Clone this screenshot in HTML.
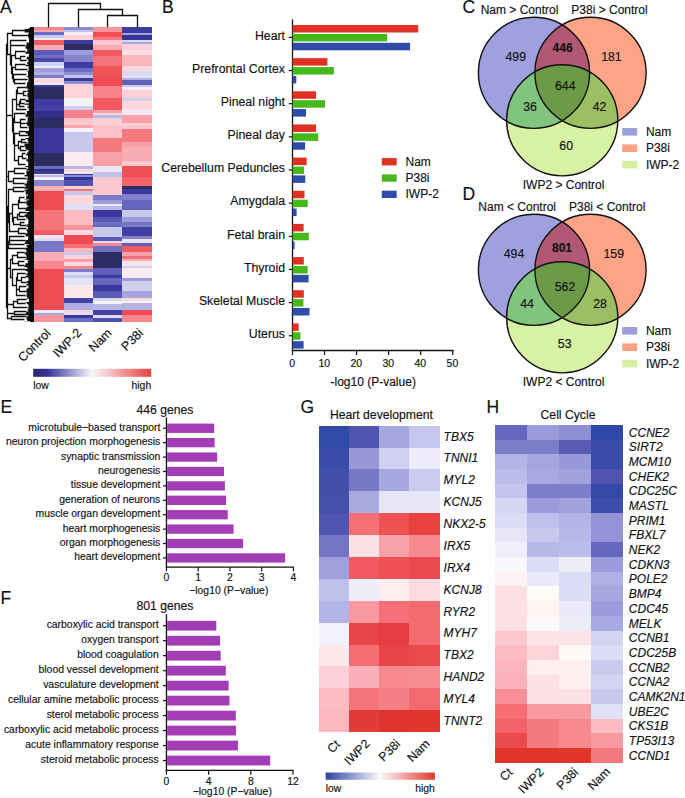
<!DOCTYPE html><html><head><meta charset="utf-8"><style>html,body{margin:0;padding:0;background:#fff;}svg{display:block;}text{font-family:"Liberation Sans", sans-serif;fill:#111;stroke:#111;stroke-width:0.15px;}</style></head><body>
<svg width="685" height="798" viewBox="0 0 685 798">
<rect x="0" y="0" width="685" height="798" fill="#fff"/>
<text x="0" y="12.8" font-size="17.5">A</text>
<text x="162" y="12.8" font-size="17.5">B</text>
<text x="462.5" y="13" font-size="17.5">C</text>
<text x="462.5" y="199.6" font-size="17.5">D</text>
<text x="0.5" y="412.8" font-size="17.5">E</text>
<text x="0.5" y="604" font-size="17.5">F</text>
<text x="300.5" y="412.6" font-size="17.5">G</text>
<text x="486.5" y="412.6" font-size="17.5">H</text>
<rect x="34.30" y="27.30" width="29.70" height="2.80" fill="#f5868c" shape-rendering="crispEdges"/>
<rect x="34.30" y="29.70" width="29.70" height="3.00" fill="#f8a8ae" shape-rendering="crispEdges"/>
<rect x="34.30" y="32.30" width="29.70" height="2.60" fill="#6a6ac0" shape-rendering="crispEdges"/>
<rect x="34.30" y="34.50" width="29.70" height="3.80" fill="#c8c8ec" shape-rendering="crispEdges"/>
<rect x="34.30" y="37.90" width="29.70" height="2.60" fill="#f8e8f0" shape-rendering="crispEdges"/>
<rect x="34.30" y="40.10" width="29.70" height="5.10" fill="#f05a60" shape-rendering="crispEdges"/>
<rect x="34.30" y="44.80" width="29.70" height="5.60" fill="#f9acb4" shape-rendering="crispEdges"/>
<rect x="34.30" y="50.00" width="29.70" height="5.50" fill="#5c5cb6" shape-rendering="crispEdges"/>
<rect x="34.30" y="55.10" width="29.70" height="3.00" fill="#7070c0" shape-rendering="crispEdges"/>
<rect x="34.30" y="57.70" width="29.70" height="4.70" fill="#4a48ac" shape-rendering="crispEdges"/>
<rect x="34.30" y="62.00" width="29.70" height="3.90" fill="#d0d0f0" shape-rendering="crispEdges"/>
<rect x="34.30" y="65.50" width="29.70" height="3.00" fill="#ececf8" shape-rendering="crispEdges"/>
<rect x="34.30" y="68.10" width="29.70" height="4.20" fill="#a0a0dc" shape-rendering="crispEdges"/>
<rect x="34.30" y="71.90" width="29.70" height="3.50" fill="#b0b0e4" shape-rendering="crispEdges"/>
<rect x="34.30" y="75.00" width="29.70" height="3.00" fill="#7c7cc8" shape-rendering="crispEdges"/>
<rect x="34.30" y="77.60" width="29.70" height="5.60" fill="#fcd8dc" shape-rendering="crispEdges"/>
<rect x="34.30" y="82.80" width="29.70" height="2.10" fill="#ecebf6" shape-rendering="crispEdges"/>
<rect x="34.30" y="84.50" width="29.70" height="3.00" fill="#3c38a0" shape-rendering="crispEdges"/>
<rect x="34.30" y="87.10" width="29.70" height="12.40" fill="#2c2c5e" shape-rendering="crispEdges"/>
<rect x="34.30" y="99.10" width="29.70" height="6.40" fill="#3e3aa2" shape-rendering="crispEdges"/>
<rect x="34.30" y="105.10" width="29.70" height="6.00" fill="#4440a8" shape-rendering="crispEdges"/>
<rect x="34.30" y="110.70" width="29.70" height="7.80" fill="#33308a" shape-rendering="crispEdges"/>
<rect x="34.30" y="118.10" width="29.70" height="10.70" fill="#2c2c5e" shape-rendering="crispEdges"/>
<rect x="34.30" y="128.40" width="29.70" height="24.60" fill="#3a369c" shape-rendering="crispEdges"/>
<rect x="34.30" y="152.60" width="29.70" height="13.70" fill="#2c2c5e" shape-rendering="crispEdges"/>
<rect x="34.30" y="165.90" width="29.70" height="3.40" fill="#6c6cc0" shape-rendering="crispEdges"/>
<rect x="34.30" y="168.90" width="29.70" height="2.60" fill="#303080" shape-rendering="crispEdges"/>
<rect x="34.30" y="171.10" width="29.70" height="3.00" fill="#3c3ca0" shape-rendering="crispEdges"/>
<rect x="34.30" y="173.70" width="29.70" height="1.70" fill="#f0eef8" shape-rendering="crispEdges"/>
<rect x="34.30" y="175.00" width="29.70" height="2.10" fill="#b8b8e6" shape-rendering="crispEdges"/>
<rect x="34.30" y="176.70" width="29.70" height="3.90" fill="#f6f0f6" shape-rendering="crispEdges"/>
<rect x="34.30" y="180.20" width="29.70" height="6.40" fill="#8484cc" shape-rendering="crispEdges"/>
<rect x="34.30" y="186.20" width="29.70" height="5.10" fill="#f9b0b8" shape-rendering="crispEdges"/>
<rect x="34.30" y="190.90" width="29.70" height="19.40" fill="#ee4c52" shape-rendering="crispEdges"/>
<rect x="34.30" y="209.90" width="29.70" height="20.70" fill="#f4747a" shape-rendering="crispEdges"/>
<rect x="34.30" y="230.20" width="29.70" height="5.10" fill="#f05a60" shape-rendering="crispEdges"/>
<rect x="34.30" y="234.90" width="29.70" height="4.30" fill="#f4e4ec" shape-rendering="crispEdges"/>
<rect x="34.30" y="238.80" width="29.70" height="2.50" fill="#d8d8f0" shape-rendering="crispEdges"/>
<rect x="34.30" y="240.90" width="29.70" height="11.20" fill="#7878c6" shape-rendering="crispEdges"/>
<rect x="34.30" y="251.70" width="29.70" height="9.90" fill="#f9acb4" shape-rendering="crispEdges"/>
<rect x="34.30" y="261.20" width="29.70" height="8.10" fill="#f6888e" shape-rendering="crispEdges"/>
<rect x="34.30" y="268.90" width="29.70" height="41.40" fill="#ee4c52" shape-rendering="crispEdges"/>
<rect x="34.30" y="309.90" width="29.70" height="3.40" fill="#ecebf6" shape-rendering="crispEdges"/>
<rect x="34.30" y="312.90" width="29.70" height="2.50" fill="#a8a8e0" shape-rendering="crispEdges"/>
<rect x="34.30" y="315.00" width="29.70" height="7.20" fill="#f8969c" shape-rendering="crispEdges"/>
<rect x="63.60" y="27.30" width="29.80" height="2.80" fill="#8a8ad0" shape-rendering="crispEdges"/>
<rect x="63.60" y="29.70" width="29.80" height="2.60" fill="#c0c0e8" shape-rendering="crispEdges"/>
<rect x="63.60" y="31.90" width="29.80" height="3.40" fill="#f8eef4" shape-rendering="crispEdges"/>
<rect x="63.60" y="34.90" width="29.80" height="5.10" fill="#fcd0d8" shape-rendering="crispEdges"/>
<rect x="63.60" y="39.60" width="29.80" height="5.20" fill="#3c3ca0" shape-rendering="crispEdges"/>
<rect x="63.60" y="44.40" width="29.80" height="6.00" fill="#2c2c60" shape-rendering="crispEdges"/>
<rect x="63.60" y="50.00" width="29.80" height="5.10" fill="#9c9cda" shape-rendering="crispEdges"/>
<rect x="63.60" y="54.70" width="29.80" height="7.70" fill="#8686cc" shape-rendering="crispEdges"/>
<rect x="63.60" y="62.00" width="29.80" height="6.50" fill="#3c3ca0" shape-rendering="crispEdges"/>
<rect x="63.60" y="68.10" width="29.80" height="4.20" fill="#6c6cc0" shape-rendering="crispEdges"/>
<rect x="63.60" y="71.90" width="29.80" height="3.50" fill="#8c8cd0" shape-rendering="crispEdges"/>
<rect x="63.60" y="75.00" width="29.80" height="3.40" fill="#c0c0e8" shape-rendering="crispEdges"/>
<rect x="63.60" y="78.00" width="29.80" height="3.40" fill="#3c3ca0" shape-rendering="crispEdges"/>
<rect x="63.60" y="81.00" width="29.80" height="3.40" fill="#8c8cd0" shape-rendering="crispEdges"/>
<rect x="63.60" y="84.00" width="29.80" height="14.70" fill="#fcd4da" shape-rendering="crispEdges"/>
<rect x="63.60" y="98.30" width="29.80" height="7.70" fill="#f4f2f8" shape-rendering="crispEdges"/>
<rect x="63.60" y="105.60" width="29.80" height="5.10" fill="#d0d0f0" shape-rendering="crispEdges"/>
<rect x="63.60" y="110.30" width="29.80" height="8.20" fill="#f6848a" shape-rendering="crispEdges"/>
<rect x="63.60" y="118.10" width="29.80" height="7.30" fill="#fcc4cc" shape-rendering="crispEdges"/>
<rect x="63.60" y="125.00" width="29.80" height="3.80" fill="#f8a8ae" shape-rendering="crispEdges"/>
<rect x="63.60" y="128.40" width="29.80" height="3.90" fill="#f6f2f8" shape-rendering="crispEdges"/>
<rect x="63.60" y="131.90" width="29.80" height="20.20" fill="#c8c8ec" shape-rendering="crispEdges"/>
<rect x="63.60" y="151.70" width="29.80" height="14.20" fill="#fcecf0" shape-rendering="crispEdges"/>
<rect x="63.60" y="165.50" width="29.80" height="3.80" fill="#b8b8e6" shape-rendering="crispEdges"/>
<rect x="63.60" y="168.90" width="29.80" height="3.40" fill="#fcd8dc" shape-rendering="crispEdges"/>
<rect x="63.60" y="171.90" width="29.80" height="2.20" fill="#e8e8f8" shape-rendering="crispEdges"/>
<rect x="63.60" y="173.70" width="29.80" height="1.70" fill="#3c3ca0" shape-rendering="crispEdges"/>
<rect x="63.60" y="175.00" width="29.80" height="2.10" fill="#8c8cd0" shape-rendering="crispEdges"/>
<rect x="63.60" y="176.70" width="29.80" height="3.90" fill="#34309a" shape-rendering="crispEdges"/>
<rect x="63.60" y="180.20" width="29.80" height="6.40" fill="#5050b0" shape-rendering="crispEdges"/>
<rect x="63.60" y="186.20" width="29.80" height="3.00" fill="#fcd0d8" shape-rendering="crispEdges"/>
<rect x="63.60" y="188.80" width="29.80" height="2.50" fill="#f47078" shape-rendering="crispEdges"/>
<rect x="63.60" y="190.90" width="29.80" height="4.30" fill="#c8c8ec" shape-rendering="crispEdges"/>
<rect x="63.60" y="194.80" width="29.80" height="9.50" fill="#fcd8dc" shape-rendering="crispEdges"/>
<rect x="63.60" y="203.90" width="29.80" height="6.00" fill="#e0e0f4" shape-rendering="crispEdges"/>
<rect x="63.60" y="209.50" width="29.80" height="15.90" fill="#fbbcc4" shape-rendering="crispEdges"/>
<rect x="63.60" y="225.00" width="29.80" height="5.10" fill="#f8949a" shape-rendering="crispEdges"/>
<rect x="63.60" y="229.70" width="29.80" height="5.60" fill="#fcd8dc" shape-rendering="crispEdges"/>
<rect x="63.60" y="234.90" width="29.80" height="9.00" fill="#ee4c52" shape-rendering="crispEdges"/>
<rect x="63.60" y="243.50" width="29.80" height="4.70" fill="#f47078" shape-rendering="crispEdges"/>
<rect x="63.60" y="247.80" width="29.80" height="4.70" fill="#f9b4bc" shape-rendering="crispEdges"/>
<rect x="63.60" y="252.10" width="29.80" height="3.40" fill="#c8c8ec" shape-rendering="crispEdges"/>
<rect x="63.60" y="255.10" width="29.80" height="4.30" fill="#fcd0d8" shape-rendering="crispEdges"/>
<rect x="63.60" y="259.00" width="29.80" height="3.40" fill="#f8a0a8" shape-rendering="crispEdges"/>
<rect x="63.60" y="262.00" width="29.80" height="3.90" fill="#fcd8dc" shape-rendering="crispEdges"/>
<rect x="63.60" y="265.50" width="29.80" height="3.80" fill="#f8888e" shape-rendering="crispEdges"/>
<rect x="63.60" y="268.90" width="29.80" height="3.90" fill="#7c7cc8" shape-rendering="crispEdges"/>
<rect x="63.60" y="272.40" width="29.80" height="3.00" fill="#dcdcf2" shape-rendering="crispEdges"/>
<rect x="63.60" y="275.00" width="29.80" height="3.00" fill="#c8c8ec" shape-rendering="crispEdges"/>
<rect x="63.60" y="277.60" width="29.80" height="7.30" fill="#e2e2f6" shape-rendering="crispEdges"/>
<rect x="63.60" y="284.50" width="29.80" height="13.70" fill="#fde8ec" shape-rendering="crispEdges"/>
<rect x="63.60" y="297.80" width="29.80" height="6.00" fill="#4444a6" shape-rendering="crispEdges"/>
<rect x="63.60" y="303.40" width="29.80" height="6.50" fill="#aeaee2" shape-rendering="crispEdges"/>
<rect x="63.60" y="309.50" width="29.80" height="2.90" fill="#fcd0d8" shape-rendering="crispEdges"/>
<rect x="63.60" y="312.00" width="29.80" height="3.40" fill="#e0e0f4" shape-rendering="crispEdges"/>
<rect x="63.60" y="315.00" width="29.80" height="3.40" fill="#3a38a0" shape-rendering="crispEdges"/>
<rect x="63.60" y="318.00" width="29.80" height="4.20" fill="#6c6cc0" shape-rendering="crispEdges"/>
<rect x="93.00" y="27.30" width="29.70" height="5.40" fill="#f8949a" shape-rendering="crispEdges"/>
<rect x="93.00" y="32.30" width="29.70" height="5.20" fill="#ee5055" shape-rendering="crispEdges"/>
<rect x="93.00" y="37.10" width="29.70" height="3.40" fill="#f47a80" shape-rendering="crispEdges"/>
<rect x="93.00" y="40.10" width="29.70" height="5.10" fill="#fcc4cc" shape-rendering="crispEdges"/>
<rect x="93.00" y="44.80" width="29.70" height="5.60" fill="#f9aab2" shape-rendering="crispEdges"/>
<rect x="93.00" y="50.00" width="29.70" height="6.40" fill="#f05a60" shape-rendering="crispEdges"/>
<rect x="93.00" y="56.00" width="29.70" height="9.90" fill="#f4747a" shape-rendering="crispEdges"/>
<rect x="93.00" y="65.50" width="29.70" height="9.90" fill="#f05458" shape-rendering="crispEdges"/>
<rect x="93.00" y="75.00" width="29.70" height="11.60" fill="#ee4c52" shape-rendering="crispEdges"/>
<rect x="93.00" y="86.20" width="29.70" height="12.50" fill="#f6828a" shape-rendering="crispEdges"/>
<rect x="93.00" y="98.30" width="29.70" height="12.40" fill="#f05a60" shape-rendering="crispEdges"/>
<rect x="93.00" y="110.30" width="29.70" height="3.00" fill="#f8a0a8" shape-rendering="crispEdges"/>
<rect x="93.00" y="112.90" width="29.70" height="2.50" fill="#fcd8dc" shape-rendering="crispEdges"/>
<rect x="93.00" y="115.00" width="29.70" height="3.00" fill="#b8b8e6" shape-rendering="crispEdges"/>
<rect x="93.00" y="117.60" width="29.70" height="7.80" fill="#fcd0d8" shape-rendering="crispEdges"/>
<rect x="93.00" y="125.00" width="29.70" height="13.30" fill="#fcc2ca" shape-rendering="crispEdges"/>
<rect x="93.00" y="137.90" width="29.70" height="14.20" fill="#f47a80" shape-rendering="crispEdges"/>
<rect x="93.00" y="151.70" width="29.70" height="14.20" fill="#f8a0a8" shape-rendering="crispEdges"/>
<rect x="93.00" y="165.50" width="29.70" height="6.40" fill="#ece6f2" shape-rendering="crispEdges"/>
<rect x="93.00" y="171.50" width="29.70" height="5.60" fill="#c0c0e8" shape-rendering="crispEdges"/>
<rect x="93.00" y="176.70" width="29.70" height="18.50" fill="#fcc8d0" shape-rendering="crispEdges"/>
<rect x="93.00" y="194.80" width="29.70" height="5.60" fill="#7c7cc8" shape-rendering="crispEdges"/>
<rect x="93.00" y="200.00" width="29.70" height="4.30" fill="#9c9cda" shape-rendering="crispEdges"/>
<rect x="93.00" y="203.90" width="29.70" height="2.50" fill="#ece8f6" shape-rendering="crispEdges"/>
<rect x="93.00" y="206.00" width="29.70" height="4.30" fill="#b8b8e6" shape-rendering="crispEdges"/>
<rect x="93.00" y="209.90" width="29.70" height="7.70" fill="#3c38a0" shape-rendering="crispEdges"/>
<rect x="93.00" y="217.20" width="29.70" height="4.70" fill="#5a5ab4" shape-rendering="crispEdges"/>
<rect x="93.00" y="221.50" width="29.70" height="3.90" fill="#7070c4" shape-rendering="crispEdges"/>
<rect x="93.00" y="225.00" width="29.70" height="2.10" fill="#6464bc" shape-rendering="crispEdges"/>
<rect x="93.00" y="226.70" width="29.70" height="10.80" fill="#c8c8ec" shape-rendering="crispEdges"/>
<rect x="93.00" y="237.10" width="29.70" height="4.20" fill="#5a58b2" shape-rendering="crispEdges"/>
<rect x="93.00" y="240.90" width="29.70" height="2.60" fill="#dcdcf2" shape-rendering="crispEdges"/>
<rect x="93.00" y="243.10" width="29.70" height="3.00" fill="#f8888e" shape-rendering="crispEdges"/>
<rect x="93.00" y="245.70" width="29.70" height="6.40" fill="#7070c2" shape-rendering="crispEdges"/>
<rect x="93.00" y="251.70" width="29.70" height="16.80" fill="#2e2c64" shape-rendering="crispEdges"/>
<rect x="93.00" y="268.10" width="29.70" height="7.30" fill="#5e5eb8" shape-rendering="crispEdges"/>
<rect x="93.00" y="275.00" width="29.70" height="3.00" fill="#3c3ca0" shape-rendering="crispEdges"/>
<rect x="93.00" y="277.60" width="29.70" height="7.70" fill="#6666be" shape-rendering="crispEdges"/>
<rect x="93.00" y="284.90" width="29.70" height="6.40" fill="#3c38a0" shape-rendering="crispEdges"/>
<rect x="93.00" y="290.90" width="29.70" height="7.30" fill="#5a5ab4" shape-rendering="crispEdges"/>
<rect x="93.00" y="297.80" width="29.70" height="3.40" fill="#d8d8f0" shape-rendering="crispEdges"/>
<rect x="93.00" y="300.80" width="29.70" height="3.90" fill="#f8f2f6" shape-rendering="crispEdges"/>
<rect x="93.00" y="304.30" width="29.70" height="6.00" fill="#b8b8e6" shape-rendering="crispEdges"/>
<rect x="93.00" y="309.90" width="29.70" height="5.10" fill="#4444a6" shape-rendering="crispEdges"/>
<rect x="93.00" y="314.60" width="29.70" height="3.90" fill="#dcdcf2" shape-rendering="crispEdges"/>
<rect x="93.00" y="318.10" width="29.70" height="4.10" fill="#5050b0" shape-rendering="crispEdges"/>
<rect x="122.30" y="27.30" width="29.60" height="5.90" fill="#3c3ca0" shape-rendering="crispEdges"/>
<rect x="122.30" y="32.80" width="29.60" height="2.10" fill="#a0a0dc" shape-rendering="crispEdges"/>
<rect x="122.30" y="34.50" width="29.60" height="5.50" fill="#36349a" shape-rendering="crispEdges"/>
<rect x="122.30" y="39.60" width="29.60" height="3.00" fill="#d8d8f0" shape-rendering="crispEdges"/>
<rect x="122.30" y="42.20" width="29.60" height="2.60" fill="#a8a8e0" shape-rendering="crispEdges"/>
<rect x="122.30" y="44.40" width="29.60" height="6.00" fill="#fcd0d8" shape-rendering="crispEdges"/>
<rect x="122.30" y="50.00" width="29.60" height="5.50" fill="#fde0e4" shape-rendering="crispEdges"/>
<rect x="122.30" y="55.10" width="29.60" height="10.80" fill="#fab4bc" shape-rendering="crispEdges"/>
<rect x="122.30" y="65.50" width="29.60" height="5.50" fill="#fcd8dc" shape-rendering="crispEdges"/>
<rect x="122.30" y="70.60" width="29.60" height="4.80" fill="#d8d8f0" shape-rendering="crispEdges"/>
<rect x="122.30" y="75.00" width="29.60" height="3.40" fill="#e0e0f4" shape-rendering="crispEdges"/>
<rect x="122.30" y="78.00" width="29.60" height="2.60" fill="#b0b0e4" shape-rendering="crispEdges"/>
<rect x="122.30" y="80.20" width="29.60" height="5.10" fill="#6060b8" shape-rendering="crispEdges"/>
<rect x="122.30" y="84.90" width="29.60" height="2.60" fill="#c8c8ec" shape-rendering="crispEdges"/>
<rect x="122.30" y="87.10" width="29.60" height="3.40" fill="#f6eef4" shape-rendering="crispEdges"/>
<rect x="122.30" y="90.10" width="29.60" height="8.60" fill="#fcd0d8" shape-rendering="crispEdges"/>
<rect x="122.30" y="98.30" width="29.60" height="2.90" fill="#d0d0f0" shape-rendering="crispEdges"/>
<rect x="122.30" y="100.80" width="29.60" height="8.20" fill="#fcd8dc" shape-rendering="crispEdges"/>
<rect x="122.30" y="108.60" width="29.60" height="6.40" fill="#eee8f4" shape-rendering="crispEdges"/>
<rect x="122.30" y="114.60" width="29.60" height="9.00" fill="#f8a0a8" shape-rendering="crispEdges"/>
<rect x="122.30" y="123.20" width="29.60" height="2.20" fill="#fcd0d8" shape-rendering="crispEdges"/>
<rect x="122.30" y="125.00" width="29.60" height="4.30" fill="#fcc8d0" shape-rendering="crispEdges"/>
<rect x="122.30" y="128.90" width="29.60" height="13.70" fill="#f47a80" shape-rendering="crispEdges"/>
<rect x="122.30" y="142.20" width="29.60" height="5.60" fill="#f8a0a8" shape-rendering="crispEdges"/>
<rect x="122.30" y="147.40" width="29.60" height="14.20" fill="#f9acb4" shape-rendering="crispEdges"/>
<rect x="122.30" y="161.20" width="29.60" height="4.70" fill="#fcc8d0" shape-rendering="crispEdges"/>
<rect x="122.30" y="165.50" width="29.60" height="9.90" fill="#ee5055" shape-rendering="crispEdges"/>
<rect x="122.30" y="175.00" width="29.60" height="2.60" fill="#ee4c52" shape-rendering="crispEdges"/>
<rect x="122.30" y="177.20" width="29.60" height="9.40" fill="#f26468" shape-rendering="crispEdges"/>
<rect x="122.30" y="186.20" width="29.60" height="3.40" fill="#2c2c60" shape-rendering="crispEdges"/>
<rect x="122.30" y="189.20" width="29.60" height="5.20" fill="#3c38a0" shape-rendering="crispEdges"/>
<rect x="122.30" y="194.00" width="29.60" height="6.40" fill="#8080cc" shape-rendering="crispEdges"/>
<rect x="122.30" y="200.00" width="29.60" height="10.30" fill="#6464bc" shape-rendering="crispEdges"/>
<rect x="122.30" y="209.90" width="29.60" height="7.70" fill="#c8c8ec" shape-rendering="crispEdges"/>
<rect x="122.30" y="217.20" width="29.60" height="5.20" fill="#9c9cda" shape-rendering="crispEdges"/>
<rect x="122.30" y="222.00" width="29.60" height="3.40" fill="#7474c4" shape-rendering="crispEdges"/>
<rect x="122.30" y="225.00" width="29.60" height="2.10" fill="#7c7cc8" shape-rendering="crispEdges"/>
<rect x="122.30" y="226.70" width="29.60" height="9.90" fill="#4040a4" shape-rendering="crispEdges"/>
<rect x="122.30" y="236.20" width="29.60" height="3.00" fill="#8080cc" shape-rendering="crispEdges"/>
<rect x="122.30" y="238.80" width="29.60" height="4.30" fill="#e4e4f6" shape-rendering="crispEdges"/>
<rect x="122.30" y="242.70" width="29.60" height="3.80" fill="#6060b8" shape-rendering="crispEdges"/>
<rect x="122.30" y="246.10" width="29.60" height="6.00" fill="#f05a60" shape-rendering="crispEdges"/>
<rect x="122.30" y="251.70" width="29.60" height="5.10" fill="#f8a0a8" shape-rendering="crispEdges"/>
<rect x="122.30" y="256.40" width="29.60" height="3.00" fill="#f47078" shape-rendering="crispEdges"/>
<rect x="122.30" y="259.00" width="29.60" height="2.60" fill="#fab0b8" shape-rendering="crispEdges"/>
<rect x="122.30" y="261.20" width="29.60" height="5.10" fill="#fde4e8" shape-rendering="crispEdges"/>
<rect x="122.30" y="265.90" width="29.60" height="2.60" fill="#d0d0f0" shape-rendering="crispEdges"/>
<rect x="122.30" y="268.10" width="29.60" height="10.30" fill="#f8eef2" shape-rendering="crispEdges"/>
<rect x="122.30" y="278.00" width="29.60" height="3.40" fill="#9c9cda" shape-rendering="crispEdges"/>
<rect x="122.30" y="281.00" width="29.60" height="10.30" fill="#d0d0ee" shape-rendering="crispEdges"/>
<rect x="122.30" y="290.90" width="29.60" height="7.30" fill="#a6a6de" shape-rendering="crispEdges"/>
<rect x="122.30" y="297.80" width="29.60" height="3.40" fill="#fcd8dc" shape-rendering="crispEdges"/>
<rect x="122.30" y="300.80" width="29.60" height="2.20" fill="#f8f4f8" shape-rendering="crispEdges"/>
<rect x="122.30" y="302.60" width="29.60" height="7.70" fill="#b4b4e4" shape-rendering="crispEdges"/>
<rect x="122.30" y="309.90" width="29.60" height="5.50" fill="#ee4c52" shape-rendering="crispEdges"/>
<rect x="122.30" y="315.00" width="29.60" height="7.20" fill="#f8888e" shape-rendering="crispEdges"/>
<path d="M48.50,27.30 L48.50,3.50 L100.50,3.50 L100.50,9.50" fill="none" stroke="#111" stroke-width="1.3"/>
<path d="M78.50,27.30 L78.50,9.50 L122.50,9.50 L122.50,15.50" fill="none" stroke="#111" stroke-width="1.3"/>
<path d="M107.50,27.30 L107.50,15.50 L137.50,15.50 L137.50,27.30" fill="none" stroke="#111" stroke-width="1.3"/>
<path d="M30.0,27.9H28.7V28.9H24.5V32.6H30.0Z M30.0,32.6H28.6V32.7H28.6V34.3H27.5V36.4H28.3V37.7H30.0Z M30.0,37.7H28.7V38.4H29.0V42.5H26.5V43.0H30.0Z M30.0,43.0H26.5V45.8H25.5V48.8H30.0Z M30.0,48.8H28.4V48.8H27.2V51.7H25.5V53.8H30.0Z M30.0,53.8H28.9V56.8H26.8V59.3H25.5V59.6H30.0Z M30.0,59.6H26.5V59.6H28.3V61.5H28.4V62.2H30.0Z M30.0,62.2H26.9V63.7H28.2V64.7H25.5V66.3H30.0Z M30.0,66.3H28.6V71.1H27.5V71.9H28.7V72.1H30.0Z M30.0,72.1H27.9V73.7H28.0V76.3H26.5V76.9H30.0Z M30.0,76.9H28.5V77.0H28.3V77.7H28.4V82.1H27.5V82.5H30.0Z M30.0,82.5H25.5V82.6H27.1V85.4H30.0Z M30.0,85.4H28.3V85.5H26.5V88.7H28.5V89.6H30.0Z M30.0,89.6H27.5V91.2H26.5V91.8H28.1V92.9H30.0Z M30.0,92.9H27.4V97.3H26.5V97.3H30.0Z M30.0,97.3H28.3V99.8H25.5V101.8H30.0Z M30.0,101.8H26.4V102.2H28.8V103.5H24.5V104.4H30.0Z M30.0,104.4H24.5V104.7H28.5V106.6H27.2V107.7H30.0Z M30.0,107.7H28.7V111.0H26.5V111.1H30.0Z M30.0,111.1H26.9V114.1H26.8V114.5H25.5V116.8H30.0Z M30.0,116.8H28.6V117.4H28.6V117.6H25.5V117.7H27.6V122.0H30.0Z M30.0,122.0H27.5V122.4H25.5V124.1H26.9V125.1H30.0Z M30.0,125.1H27.5V125.9H28.8V126.3H28.6V128.6H29.0V130.4H30.0Z M30.0,130.4H28.4V130.5H26.4V130.5H28.6V131.1H25.5V133.4H30.0Z M30.0,133.4H27.5V136.1H28.7V137.3H28.6V138.0H30.0Z M30.0,138.0H25.5V138.9H27.7V140.4H27.6V141.0H30.0Z M30.0,141.0H28.3V142.3H26.5V142.8H28.1V143.2H28.7V143.5H30.0Z M30.0,143.5H24.5V146.5H25.4V149.0H30.0Z M30.0,149.0H26.5V149.9H28.4V152.2H30.0Z M30.0,152.2H28.2V152.6H26.9V154.2H26.3V154.9H25.5V155.5H30.0Z M30.0,155.5H27.9V159.2H26.5V161.4H30.0Z M30.0,161.4H28.2V165.9H25.5V167.0H30.0Z M30.0,167.0H27.9V168.9H26.5V170.5H30.0Z M30.0,170.5H28.9V170.9H26.4V174.9H24.5V176.4H30.0Z M30.0,176.4H28.0V177.1H27.5V179.2H26.5V180.3H28.5V180.8H30.0Z M30.0,180.8H26.8V183.5H24.5V185.6H30.0Z M30.0,185.6H26.5V186.0H25.6V186.7H24.5V188.8H30.0Z M30.0,188.8H27.6V189.5H24.5V190.8H25.7V194.6H30.0Z M30.0,194.6H28.1V195.5H26.2V199.0H24.5V199.6H30.0Z M30.0,199.6H29.0V200.2H26.5V205.4H30.0Z M30.0,205.4H28.2V206.8H26.7V207.8H25.5V211.1H30.0Z M30.0,211.1H28.9V212.0H26.5V214.6H30.0Z M30.0,214.6H24.5V217.1H26.1V217.8H26.9V218.1H28.0V218.4H30.0Z M30.0,218.4H26.3V219.2H28.0V219.7H25.5V219.8H28.4V221.5H30.0Z M30.0,221.5H24.5V221.6H28.3V224.3H25.6V224.5H30.0Z M30.0,224.5H27.3V225.1H27.3V226.0H26.5V227.1H28.0V227.2H30.0Z M30.0,227.2H28.1V229.2H26.5V230.7H30.0Z M30.0,230.7H27.1V232.5H27.8V233.2H25.5V235.4H30.0Z M30.0,235.4H24.5V235.7H26.3V236.6H28.4V237.9H30.0Z M30.0,237.9H28.1V240.1H25.5V242.7H30.0Z M30.0,242.7H24.5V243.9H28.8V244.7H27.8V244.7H26.3V246.4H30.0Z M30.0,246.4H27.5V246.7H27.7V246.7H27.4V247.7H25.5V250.0H30.0Z M30.0,250.0H26.4V252.3H24.5V254.2H25.7V255.4H30.0Z M30.0,255.4H27.6V255.6H26.5V259.4H27.9V259.6H30.0Z M30.0,259.6H24.5V259.9H28.8V260.4H27.3V261.1H27.7V263.2H30.0Z M30.0,263.2H25.4V265.5H24.5V267.2H28.6V267.3H30.0Z M30.0,267.3H27.5V268.8H25.5V271.0H27.4V272.3H30.0Z M30.0,272.3H27.9V273.6H25.5V274.5H27.0V275.0H30.0Z M30.0,275.0H27.3V275.8H25.5V277.5H28.4V280.9H30.0Z M30.0,280.9H26.5V282.5H27.6V282.8H28.1V283.5H30.0Z M30.0,283.5H26.5V285.5H28.4V288.6H30.0Z M30.0,288.6H26.5V293.5H27.6V294.1H30.0Z M30.0,294.1H26.8V294.1H26.5V296.4H25.5V296.7H30.0Z M30.0,296.7H27.6V297.8H26.5V298.8H28.9V301.9H30.0Z M30.0,301.9H25.5V302.7H26.8V304.1H27.7V304.7H28.6V305.7H30.0Z M30.0,305.7H28.4V309.0H27.5V309.7H28.3V310.2H30.0Z M30.0,310.2H27.4V310.5H28.2V311.4H26.5V312.7H30.0Z M30.0,312.7H25.5V314.8H26.4V315.4H30.0Z M30.0,315.4H28.9V315.9H27.4V316.7H26.5V318.5H30.0Z M30.0,318.5H26.6V319.8H27.2V320.9H24.5V321.2H30.0Z" fill="#111"/>
<path d="M24.5,30.5H12.5V35.5H27.5 M26.5,40.5H10.5V45.5H25.5 M25.5,56.5H20.5V60.5H26.5 M25.5,51.5H15.5V58.5H20.5 M25.5,64.5H15.5V69.5H27.5 M27.5,79.5H14.5V83.5H25.5 M26.5,74.5H13.5V81.5H14.5 M15.5,67.5H12.5V78.5H13.5 M15.5,55.5H11.5V73.5H12.5 M10.5,43.5H10.5V64.5H11.5 M12.5,33.5H7.5V54.5H10.5 M26.5,91.5H23.5V95.5H26.5 M26.5,87.5H17.5V93.5H23.5 M25.5,99.5H20.5V103.5H24.5 M20.5,101.5H19.5V106.5H24.5 M19.5,104.5H16.5V109.5H26.5 M17.5,90.5H16.5V107.5H16.5 M25.5,123.5H20.5V127.5H27.5 M25.5,119.5H20.5V125.5H20.5 M25.5,113.5H14.5V122.5H20.5 M25.5,131.5H19.5V135.5H27.5 M25.5,139.5H21.5V142.5H26.5 M24.5,146.5H20.5V150.5H26.5 M21.5,141.5H18.5V148.5H20.5 M25.5,153.5H22.5V158.5H26.5 M22.5,156.5H18.5V164.5H25.5 M18.5,145.5H14.5V160.5H18.5 M19.5,133.5H14.5V153.5H14.5 M14.5,118.5H13.5V143.5H14.5 M16.5,99.5H12.5V131.5H13.5 M7.5,44.5H6.5V115.5H12.5 M26.5,168.5H14.5V173.5H24.5 M26.5,178.5H13.5V183.5H24.5 M14.5,171.5H8.5V181.5H13.5 M6.5,80.5H6.5V176.5H8.5 M24.5,187.5H13.5V191.5H24.5 M24.5,197.5H19.5V202.5H26.5 M19.5,200.5H18.5V208.5H25.5 M26.5,212.5H19.5V216.5H24.5 M19.5,214.5H17.5V219.5H25.5 M24.5,222.5H20.5V225.5H26.5 M17.5,217.5H13.5V224.5H20.5 M18.5,204.5H12.5V221.5H13.5 M26.5,228.5H18.5V233.5H25.5 M12.5,213.5H9.5V231.5H18.5 M13.5,189.5H8.5V222.5H9.5 M24.5,236.5H9.5V240.5H25.5 M9.5,238.5H9.5V244.5H24.5 M9.5,241.5H8.5V248.5H25.5 M8.5,206.5H7.5V245.5H8.5 M24.5,252.5H17.5V257.5H26.5 M24.5,261.5H18.5V265.5H24.5 M17.5,255.5H12.5V263.5H18.5 M25.5,277.5H21.5V282.5H26.5 M25.5,273.5H17.5V280.5H21.5 M26.5,286.5H19.5V291.5H26.5 M19.5,289.5H16.5V295.5H25.5 M17.5,277.5H16.5V292.5H16.5 M25.5,269.5H12.5V285.5H16.5 M12.5,259.5H10.5V277.5H12.5 M7.5,226.5H7.5V268.5H10.5 M26.5,299.5H17.5V303.5H25.5 M17.5,301.5H13.5V307.5H27.5 M7.5,247.5H7.5V304.5H13.5 M26.5,311.5H14.5V314.5H25.5 M7.5,276.5H7.5V313.5H14.5 M26.5,316.5H11.5V319.5H24.5 M7.5,295.5H7.5V318.5H11.5 M6.5,128.5H6.5V307.5H7.5" fill="none" stroke="#111" stroke-width="1.3"/>
<rect x="30.00" y="27.30" width="4.30" height="294.50" fill="#0b0b0b" shape-rendering="crispEdges"/>
<text x="51.5" y="334" font-size="12.5" text-anchor="end" transform="rotate(-45 51.5 334)">Control</text>
<text x="82.5" y="333.5" font-size="12.5" text-anchor="end" transform="rotate(-45 82.5 333.5)">IWP-2</text>
<text x="112.5" y="333.8" font-size="12.5" text-anchor="end" transform="rotate(-45 112.5 333.8)">Nam</text>
<text x="144" y="333.8" font-size="12.5" text-anchor="end" transform="rotate(-45 144 333.8)">P38i</text>
<defs><linearGradient id="cbA" x1="0" x2="1" y1="0" y2="0"><stop offset="0" stop-color="#2a2862"/><stop offset="0.12" stop-color="#35329a"/><stop offset="0.5" stop-color="#fbf7fb"/><stop offset="1" stop-color="#e8403f"/></linearGradient></defs>
<rect x="33.20" y="368.80" width="118.00" height="8.00" fill="url(#cbA)"/>
<text x="33.2" y="389.1" font-size="10.4">low</text>
<text x="151.2" y="389.1" font-size="10.4" text-anchor="end">high</text>
<line x1="292.5" y1="19.4" x2="292.5" y2="351.1" stroke="#111" stroke-width="1.3"/>
<line x1="291.9" y1="350.5" x2="453.6" y2="350.5" stroke="#111" stroke-width="1.3"/>
<line x1="292.5" y1="350.5" x2="292.5" y2="355" stroke="#111" stroke-width="1.2"/>
<text x="292.2" y="367" font-size="10.5" text-anchor="middle">0</text>
<line x1="324.54" y1="350.5" x2="324.54" y2="355" stroke="#111" stroke-width="1.2"/>
<text x="324.24" y="367" font-size="10.5" text-anchor="middle">10</text>
<line x1="356.58" y1="350.5" x2="356.58" y2="355" stroke="#111" stroke-width="1.2"/>
<text x="356.28" y="367" font-size="10.5" text-anchor="middle">20</text>
<line x1="388.62" y1="350.5" x2="388.62" y2="355" stroke="#111" stroke-width="1.2"/>
<text x="388.32" y="367" font-size="10.5" text-anchor="middle">30</text>
<line x1="420.65999999999997" y1="350.5" x2="420.65999999999997" y2="355" stroke="#111" stroke-width="1.2"/>
<text x="420.35999999999996" y="367" font-size="10.5" text-anchor="middle">40</text>
<line x1="452.7" y1="350.5" x2="452.7" y2="355" stroke="#111" stroke-width="1.2"/>
<text x="452.4" y="367" font-size="10.5" text-anchor="middle">50</text>
<text x="373.2" y="386.3" font-size="12" text-anchor="middle">-log10 (P-value)</text>
<rect x="292.60" y="25.00" width="125.60" height="7.50" fill="#e03223"/>
<rect x="292.60" y="33.90" width="94.50" height="7.50" fill="#45b81c"/>
<rect x="292.60" y="42.80" width="117.50" height="7.50" fill="#2f4da8"/>
<line x1="288.8" y1="37.4" x2="292.5" y2="37.4" stroke="#111" stroke-width="1.2"/>
<text x="285.0" y="39.699999999999996" font-size="12.3" text-anchor="end">Heart</text>
<rect x="292.60" y="58.15" width="34.80" height="7.50" fill="#e03223"/>
<rect x="292.60" y="67.05" width="41.30" height="7.50" fill="#45b81c"/>
<rect x="292.60" y="75.95" width="3.70" height="7.50" fill="#2f4da8"/>
<line x1="288.8" y1="70.55" x2="292.5" y2="70.55" stroke="#111" stroke-width="1.2"/>
<text x="285.0" y="72.85" font-size="12.3" text-anchor="end">Prefrontal Cortex</text>
<rect x="292.60" y="91.30" width="23.50" height="7.50" fill="#e03223"/>
<rect x="292.60" y="100.20" width="32.40" height="7.50" fill="#45b81c"/>
<rect x="292.60" y="109.10" width="13.40" height="7.50" fill="#2f4da8"/>
<line x1="288.8" y1="103.7" x2="292.5" y2="103.7" stroke="#111" stroke-width="1.2"/>
<text x="285.0" y="106.0" font-size="12.3" text-anchor="end">Pineal night</text>
<rect x="292.60" y="124.45" width="23.40" height="7.50" fill="#e03223"/>
<rect x="292.60" y="133.35" width="25.60" height="7.50" fill="#45b81c"/>
<rect x="292.60" y="142.25" width="12.50" height="7.50" fill="#2f4da8"/>
<line x1="288.8" y1="136.85" x2="292.5" y2="136.85" stroke="#111" stroke-width="1.2"/>
<text x="285.0" y="139.15" font-size="12.3" text-anchor="end">Pineal day</text>
<rect x="292.60" y="157.60" width="14.10" height="7.50" fill="#e03223"/>
<rect x="292.60" y="166.50" width="11.50" height="7.50" fill="#45b81c"/>
<rect x="292.60" y="175.40" width="12.70" height="7.50" fill="#2f4da8"/>
<line x1="288.8" y1="170.0" x2="292.5" y2="170.0" stroke="#111" stroke-width="1.2"/>
<text x="285.0" y="172.3" font-size="12.3" text-anchor="end">Cerebellum Peduncles</text>
<rect x="292.60" y="190.75" width="11.90" height="7.50" fill="#e03223"/>
<rect x="292.60" y="199.65" width="15.10" height="7.50" fill="#45b81c"/>
<rect x="292.60" y="208.55" width="4.00" height="7.50" fill="#2f4da8"/>
<line x1="288.8" y1="203.15" x2="292.5" y2="203.15" stroke="#111" stroke-width="1.2"/>
<text x="285.0" y="205.45000000000002" font-size="12.3" text-anchor="end">Amygdala</text>
<rect x="292.60" y="223.90" width="11.00" height="7.50" fill="#e03223"/>
<rect x="292.60" y="232.80" width="16.20" height="7.50" fill="#45b81c"/>
<rect x="292.60" y="241.70" width="2.00" height="7.50" fill="#2f4da8"/>
<line x1="288.8" y1="236.29999999999998" x2="292.5" y2="236.29999999999998" stroke="#111" stroke-width="1.2"/>
<text x="285.0" y="238.6" font-size="12.3" text-anchor="end">Fetal brain</text>
<rect x="292.60" y="257.05" width="11.20" height="7.50" fill="#e03223"/>
<rect x="292.60" y="265.95" width="15.10" height="7.50" fill="#45b81c"/>
<rect x="292.60" y="274.85" width="16.00" height="7.50" fill="#2f4da8"/>
<line x1="288.8" y1="269.44999999999993" x2="292.5" y2="269.44999999999993" stroke="#111" stroke-width="1.2"/>
<text x="285.0" y="271.74999999999994" font-size="12.3" text-anchor="end">Thyroid</text>
<rect x="292.60" y="290.20" width="11.20" height="7.50" fill="#e03223"/>
<rect x="292.60" y="299.10" width="10.80" height="7.50" fill="#45b81c"/>
<rect x="292.60" y="308.00" width="16.90" height="7.50" fill="#2f4da8"/>
<line x1="288.8" y1="302.59999999999997" x2="292.5" y2="302.59999999999997" stroke="#111" stroke-width="1.2"/>
<text x="285.0" y="304.9" font-size="12.3" text-anchor="end">Skeletal Muscle</text>
<rect x="292.60" y="323.35" width="6.10" height="7.50" fill="#e03223"/>
<rect x="292.60" y="332.25" width="7.80" height="7.50" fill="#45b81c"/>
<rect x="292.60" y="341.15" width="11.00" height="7.50" fill="#2f4da8"/>
<line x1="288.8" y1="335.74999999999994" x2="292.5" y2="335.74999999999994" stroke="#111" stroke-width="1.2"/>
<text x="285.0" y="338.04999999999995" font-size="12.3" text-anchor="end">Uterus</text>
<rect x="381.80" y="158.10" width="14.90" height="7.30" fill="#e03223"/>
<text x="405.5" y="165.5" font-size="12">Nam</text>
<rect x="381.80" y="174.40" width="14.90" height="7.30" fill="#45b81c"/>
<text x="405.5" y="181.8" font-size="12">P38i</text>
<rect x="381.80" y="190.70" width="14.90" height="7.30" fill="#2f4da8"/>
<text x="405.5" y="198.1" font-size="12">IWP-2</text>
<defs>
<clipPath id="v0P"><circle cx="534.0" cy="72.8" r="55.6"/></clipPath>
<clipPath id="v0O"><circle cx="590.5" cy="72.8" r="55.6"/></clipPath>
<clipPath id="v0G"><circle cx="562.2" cy="120.3" r="55.6"/></clipPath>
</defs>
<circle cx="534.0" cy="72.8" r="55.6" fill="#9ea1de"/>
<circle cx="590.5" cy="72.8" r="55.6" fill="#fda487"/>
<circle cx="562.2" cy="120.3" r="55.6" fill="#d6f2a2"/>
<circle cx="590.5" cy="72.8" r="55.6" fill="#b25875" clip-path="url(#v0P)"/>
<circle cx="562.2" cy="120.3" r="55.6" fill="#80c47e" clip-path="url(#v0P)"/>
<circle cx="562.2" cy="120.3" r="55.6" fill="#9bc063" clip-path="url(#v0O)"/>
<g clip-path="url(#v0P)"><circle cx="562.2" cy="120.3" r="55.6" fill="#6d9a48" clip-path="url(#v0O)"/></g>
<circle cx="534.0" cy="72.8" r="55.6" fill="none" stroke="#111" stroke-width="1.4"/>
<circle cx="590.5" cy="72.8" r="55.6" fill="none" stroke="#111" stroke-width="1.4"/>
<circle cx="562.2" cy="120.3" r="55.6" fill="none" stroke="#111" stroke-width="1.4"/>
<text x="519.5" y="14" font-size="12" text-anchor="middle">Nam &gt; Control</text>
<text x="609.5" y="14" font-size="12" text-anchor="middle">P38i &gt; Control</text>
<text x="563.6" y="188.9" font-size="12" text-anchor="middle">IWP2 &gt; Control</text>
<text x="515.8" y="60.7" font-size="12.3" text-anchor="middle">499</text>
<text x="562.6" y="52.3" font-size="12" text-anchor="middle" font-weight="bold">446</text>
<text x="611.4" y="60.7" font-size="12.3" text-anchor="middle">181</text>
<text x="565.3" y="89.9" font-size="12.3" text-anchor="middle">644</text>
<text x="530.1" y="110.5" font-size="12.3" text-anchor="middle">36</text>
<text x="599.6" y="110.5" font-size="12.3" text-anchor="middle">42</text>
<text x="566.2" y="150.2" font-size="12.3" text-anchor="middle">60</text>
<rect x="622.20" y="128.00" width="15.00" height="7.60" fill="#9b9fdc"/>
<text x="645.9" y="135.8" font-size="12">Nam</text>
<rect x="622.20" y="144.40" width="15.00" height="7.60" fill="#fda083"/>
<text x="645.9" y="152.20000000000002" font-size="12">P38i</text>
<rect x="622.20" y="160.80" width="15.00" height="7.60" fill="#d4f0a0"/>
<text x="645.9" y="168.60000000000002" font-size="12">IWP-2</text>
<defs>
<clipPath id="v1P"><circle cx="534.0" cy="269.8" r="55.6"/></clipPath>
<clipPath id="v1O"><circle cx="590.5" cy="269.8" r="55.6"/></clipPath>
<clipPath id="v1G"><circle cx="562.2" cy="317.3" r="55.6"/></clipPath>
</defs>
<circle cx="534.0" cy="269.8" r="55.6" fill="#9ea1de"/>
<circle cx="590.5" cy="269.8" r="55.6" fill="#fda487"/>
<circle cx="562.2" cy="317.3" r="55.6" fill="#d6f2a2"/>
<circle cx="590.5" cy="269.8" r="55.6" fill="#b25875" clip-path="url(#v1P)"/>
<circle cx="562.2" cy="317.3" r="55.6" fill="#80c47e" clip-path="url(#v1P)"/>
<circle cx="562.2" cy="317.3" r="55.6" fill="#9bc063" clip-path="url(#v1O)"/>
<g clip-path="url(#v1P)"><circle cx="562.2" cy="317.3" r="55.6" fill="#6d9a48" clip-path="url(#v1O)"/></g>
<circle cx="534.0" cy="269.8" r="55.6" fill="none" stroke="#111" stroke-width="1.4"/>
<circle cx="590.5" cy="269.8" r="55.6" fill="none" stroke="#111" stroke-width="1.4"/>
<circle cx="562.2" cy="317.3" r="55.6" fill="none" stroke="#111" stroke-width="1.4"/>
<text x="517.2" y="211" font-size="12" text-anchor="middle">Nam &lt; Control</text>
<text x="607.2" y="211" font-size="12" text-anchor="middle">P38i &lt; Control</text>
<text x="563.6" y="385.9" font-size="12" text-anchor="middle">IWP2 &lt; Control</text>
<text x="514" y="257.7" font-size="12.3" text-anchor="middle">494</text>
<text x="562" y="252.2" font-size="12" text-anchor="middle" font-weight="bold">801</text>
<text x="613.8" y="257.7" font-size="12.3" text-anchor="middle">159</text>
<text x="565" y="291.3" font-size="12.3" text-anchor="middle">562</text>
<text x="527.1" y="307.5" font-size="12.3" text-anchor="middle">44</text>
<text x="600.1" y="307.5" font-size="12.3" text-anchor="middle">28</text>
<text x="564.7" y="347.59999999999997" font-size="12.3" text-anchor="middle">53</text>
<rect x="622.20" y="327.00" width="15.00" height="7.60" fill="#9b9fdc"/>
<text x="645.9" y="334.8" font-size="12">Nam</text>
<rect x="622.20" y="343.40" width="15.00" height="7.60" fill="#fda083"/>
<text x="645.9" y="351.2" font-size="12">P38i</text>
<rect x="622.20" y="359.80" width="15.00" height="7.60" fill="#d4f0a0"/>
<text x="645.9" y="367.6" font-size="12">IWP-2</text>
<line x1="166.45" y1="417.4" x2="166.45" y2="567.7" stroke="#111" stroke-width="1.3"/>
<line x1="165.85" y1="567.1" x2="294.05" y2="567.1" stroke="#111" stroke-width="1.3"/>
<line x1="166.45" y1="567.1" x2="166.45" y2="571.4" stroke="#111" stroke-width="1.2"/>
<text x="166.45" y="581.3000000000001" font-size="10.4" text-anchor="middle">0</text>
<line x1="198.2" y1="567.1" x2="198.2" y2="571.4" stroke="#111" stroke-width="1.2"/>
<text x="198.2" y="581.3000000000001" font-size="10.4" text-anchor="middle">1</text>
<line x1="229.95" y1="567.1" x2="229.95" y2="571.4" stroke="#111" stroke-width="1.2"/>
<text x="229.95" y="581.3000000000001" font-size="10.4" text-anchor="middle">2</text>
<line x1="261.7" y1="567.1" x2="261.7" y2="571.4" stroke="#111" stroke-width="1.2"/>
<text x="261.7" y="581.3000000000001" font-size="10.4" text-anchor="middle">3</text>
<line x1="293.45" y1="567.1" x2="293.45" y2="571.4" stroke="#111" stroke-width="1.2"/>
<text x="293.45" y="581.3000000000001" font-size="10.4" text-anchor="middle">4</text>
<text x="228.8" y="594" font-size="10.4" text-anchor="middle">−log10 (P−value)</text>
<text x="165" y="414" font-size="12.2" text-anchor="middle">446 genes</text>
<rect x="167.15" y="423.60" width="47.05" height="9.30" fill="#a23db5"/>
<line x1="163.0" y1="428.25" x2="166.45" y2="428.25" stroke="#111" stroke-width="1.2"/>
<text x="160.3" y="430.75" font-size="10.4" text-anchor="end">microtubule−based transport</text>
<rect x="167.15" y="438.01" width="47.45" height="9.30" fill="#a23db5"/>
<line x1="163.0" y1="442.66" x2="166.45" y2="442.66" stroke="#111" stroke-width="1.2"/>
<text x="160.3" y="445.16" font-size="10.4" text-anchor="end">neuron projection morphogenesis</text>
<rect x="167.15" y="452.42" width="50.05" height="9.30" fill="#a23db5"/>
<line x1="163.0" y1="457.07" x2="166.45" y2="457.07" stroke="#111" stroke-width="1.2"/>
<text x="160.3" y="459.57" font-size="10.4" text-anchor="end">synaptic transmission</text>
<rect x="167.15" y="466.83" width="56.85" height="9.30" fill="#a23db5"/>
<line x1="163.0" y1="471.48" x2="166.45" y2="471.48" stroke="#111" stroke-width="1.2"/>
<text x="160.3" y="473.98" font-size="10.4" text-anchor="end">neurogenesis</text>
<rect x="167.15" y="481.24" width="57.75" height="9.30" fill="#a23db5"/>
<line x1="163.0" y1="485.89" x2="166.45" y2="485.89" stroke="#111" stroke-width="1.2"/>
<text x="160.3" y="488.39" font-size="10.4" text-anchor="end">tissue development</text>
<rect x="167.15" y="495.65" width="58.85" height="9.30" fill="#a23db5"/>
<line x1="163.0" y1="500.3" x2="166.45" y2="500.3" stroke="#111" stroke-width="1.2"/>
<text x="160.3" y="502.8" font-size="10.4" text-anchor="end">generation of neurons</text>
<rect x="167.15" y="510.06" width="60.55" height="9.30" fill="#a23db5"/>
<line x1="163.0" y1="514.71" x2="166.45" y2="514.71" stroke="#111" stroke-width="1.2"/>
<text x="160.3" y="517.21" font-size="10.4" text-anchor="end">muscle organ development</text>
<rect x="167.15" y="524.47" width="66.45" height="9.30" fill="#a23db5"/>
<line x1="163.0" y1="529.12" x2="166.45" y2="529.12" stroke="#111" stroke-width="1.2"/>
<text x="160.3" y="531.62" font-size="10.4" text-anchor="end">heart morphogenesis</text>
<rect x="167.15" y="538.88" width="75.95" height="9.30" fill="#a23db5"/>
<line x1="163.0" y1="543.53" x2="166.45" y2="543.53" stroke="#111" stroke-width="1.2"/>
<text x="160.3" y="546.03" font-size="10.4" text-anchor="end">organ morphogenesis</text>
<rect x="167.15" y="553.29" width="117.95" height="9.30" fill="#a23db5"/>
<line x1="163.0" y1="557.9399999999999" x2="166.45" y2="557.9399999999999" stroke="#111" stroke-width="1.2"/>
<text x="160.3" y="560.4399999999999" font-size="10.4" text-anchor="end">heart development</text>
<line x1="166.45" y1="614.2" x2="166.45" y2="771.0" stroke="#111" stroke-width="1.3"/>
<line x1="165.85" y1="770.4" x2="293.56" y2="770.4" stroke="#111" stroke-width="1.3"/>
<line x1="166.45" y1="770.4" x2="166.45" y2="774.6999999999999" stroke="#111" stroke-width="1.2"/>
<text x="166.45" y="784.6" font-size="10.4" text-anchor="middle">0</text>
<line x1="208.62" y1="770.4" x2="208.62" y2="774.6999999999999" stroke="#111" stroke-width="1.2"/>
<text x="208.62" y="784.6" font-size="10.4" text-anchor="middle">4</text>
<line x1="250.79" y1="770.4" x2="250.79" y2="774.6999999999999" stroke="#111" stroke-width="1.2"/>
<text x="250.79" y="784.6" font-size="10.4" text-anchor="middle">8</text>
<line x1="292.96" y1="770.4" x2="292.96" y2="774.6999999999999" stroke="#111" stroke-width="1.2"/>
<text x="292.96" y="784.6" font-size="10.4" text-anchor="middle">12</text>
<text x="232.3" y="794.5" font-size="10.4" text-anchor="middle">−log10 (P−value)</text>
<text x="165" y="610.4" font-size="12.2" text-anchor="middle">801 genes</text>
<rect x="167.15" y="620.80" width="49.15" height="9.80" fill="#a23db5"/>
<line x1="163.0" y1="625.6999999999999" x2="166.45" y2="625.6999999999999" stroke="#111" stroke-width="1.2"/>
<text x="158.7" y="627.9999999999999" font-size="10.4" text-anchor="end">carboxylic acid transport</text>
<rect x="167.15" y="635.78" width="52.95" height="9.80" fill="#a23db5"/>
<line x1="163.0" y1="640.68" x2="166.45" y2="640.68" stroke="#111" stroke-width="1.2"/>
<text x="158.7" y="642.9799999999999" font-size="10.4" text-anchor="end">oxygen transport</text>
<rect x="167.15" y="650.76" width="53.55" height="9.80" fill="#a23db5"/>
<line x1="163.0" y1="655.66" x2="166.45" y2="655.66" stroke="#111" stroke-width="1.2"/>
<text x="158.7" y="657.9599999999999" font-size="10.4" text-anchor="end">blood coagulation</text>
<rect x="167.15" y="665.74" width="58.65" height="9.80" fill="#a23db5"/>
<line x1="163.0" y1="670.64" x2="166.45" y2="670.64" stroke="#111" stroke-width="1.2"/>
<text x="158.7" y="672.9399999999999" font-size="10.4" text-anchor="end">blood vessel development</text>
<rect x="167.15" y="680.72" width="61.45" height="9.80" fill="#a23db5"/>
<line x1="163.0" y1="685.6199999999999" x2="166.45" y2="685.6199999999999" stroke="#111" stroke-width="1.2"/>
<text x="158.7" y="687.9199999999998" font-size="10.4" text-anchor="end">vasculature development</text>
<rect x="167.15" y="695.70" width="62.35" height="9.80" fill="#a23db5"/>
<line x1="163.0" y1="700.5999999999999" x2="166.45" y2="700.5999999999999" stroke="#111" stroke-width="1.2"/>
<text x="158.7" y="702.8999999999999" font-size="10.4" text-anchor="end">cellular amine metabolic process</text>
<rect x="167.15" y="710.68" width="68.65" height="9.80" fill="#a23db5"/>
<line x1="163.0" y1="715.5799999999999" x2="166.45" y2="715.5799999999999" stroke="#111" stroke-width="1.2"/>
<text x="158.7" y="717.8799999999999" font-size="10.4" text-anchor="end">sterol metabolic process</text>
<rect x="167.15" y="725.66" width="68.85" height="9.80" fill="#a23db5"/>
<line x1="163.0" y1="730.56" x2="166.45" y2="730.56" stroke="#111" stroke-width="1.2"/>
<text x="158.7" y="732.8599999999999" font-size="10.4" text-anchor="end">carboxylic acid metabolic process</text>
<rect x="167.15" y="740.64" width="70.85" height="9.80" fill="#a23db5"/>
<line x1="163.0" y1="745.54" x2="166.45" y2="745.54" stroke="#111" stroke-width="1.2"/>
<text x="158.7" y="747.8399999999999" font-size="10.4" text-anchor="end">acute inflammatory response</text>
<rect x="167.15" y="755.62" width="103.05" height="9.80" fill="#a23db5"/>
<line x1="163.0" y1="760.5199999999999" x2="166.45" y2="760.5199999999999" stroke="#111" stroke-width="1.2"/>
<text x="158.7" y="762.8199999999998" font-size="10.4" text-anchor="end">steroid metabolic process</text>
<rect x="319.00" y="425.70" width="30.30" height="22.18" fill="#2f4ba8" shape-rendering="crispEdges"/>
<rect x="349.00" y="425.70" width="30.30" height="22.18" fill="#5055b0" shape-rendering="crispEdges"/>
<rect x="379.00" y="425.70" width="30.40" height="22.18" fill="#a5a8e0" shape-rendering="crispEdges"/>
<rect x="409.10" y="425.70" width="30.40" height="22.18" fill="#c5c6ee" shape-rendering="crispEdges"/>
<text x="443.6" y="440.53999999999996" font-size="12" font-style="italic">TBX5</text>
<rect x="319.00" y="447.58" width="30.30" height="22.18" fill="#3a4aa8" shape-rendering="crispEdges"/>
<rect x="349.00" y="447.58" width="30.30" height="22.18" fill="#9798d8" shape-rendering="crispEdges"/>
<rect x="379.00" y="447.58" width="30.40" height="22.18" fill="#d0d0f0" shape-rendering="crispEdges"/>
<rect x="409.10" y="447.58" width="30.40" height="22.18" fill="#ececfa" shape-rendering="crispEdges"/>
<text x="443.6" y="462.41999999999996" font-size="12" font-style="italic">TNNI1</text>
<rect x="319.00" y="469.46" width="30.30" height="22.18" fill="#4250aa" shape-rendering="crispEdges"/>
<rect x="349.00" y="469.46" width="30.30" height="22.18" fill="#7778c8" shape-rendering="crispEdges"/>
<rect x="379.00" y="469.46" width="30.40" height="22.18" fill="#a8a8e0" shape-rendering="crispEdges"/>
<rect x="409.10" y="469.46" width="30.40" height="22.18" fill="#cbcbf0" shape-rendering="crispEdges"/>
<text x="443.6" y="484.29999999999995" font-size="12" font-style="italic">MYL2</text>
<rect x="319.00" y="491.34" width="30.30" height="22.18" fill="#4450aa" shape-rendering="crispEdges"/>
<rect x="349.00" y="491.34" width="30.30" height="22.18" fill="#aaaae0" shape-rendering="crispEdges"/>
<rect x="379.00" y="491.34" width="30.40" height="22.18" fill="#e6e6f8" shape-rendering="crispEdges"/>
<rect x="409.10" y="491.34" width="30.40" height="22.18" fill="#e6e6f8" shape-rendering="crispEdges"/>
<text x="443.6" y="506.17999999999995" font-size="12" font-style="italic">KCNJ5</text>
<rect x="319.00" y="513.22" width="30.30" height="22.18" fill="#5055b0" shape-rendering="crispEdges"/>
<rect x="349.00" y="513.22" width="30.30" height="22.18" fill="#f47075" shape-rendering="crispEdges"/>
<rect x="379.00" y="513.22" width="30.40" height="22.18" fill="#ee5255" shape-rendering="crispEdges"/>
<rect x="409.10" y="513.22" width="30.40" height="22.18" fill="#e84142" shape-rendering="crispEdges"/>
<text x="443.6" y="528.0600000000001" font-size="12" font-style="italic">NKX2-5</text>
<rect x="319.00" y="535.10" width="30.30" height="22.18" fill="#7474c4" shape-rendering="crispEdges"/>
<rect x="349.00" y="535.10" width="30.30" height="22.18" fill="#fde0e4" shape-rendering="crispEdges"/>
<rect x="379.00" y="535.10" width="30.40" height="22.18" fill="#f8a0a8" shape-rendering="crispEdges"/>
<rect x="409.10" y="535.10" width="30.40" height="22.18" fill="#f68a90" shape-rendering="crispEdges"/>
<text x="443.6" y="549.94" font-size="12" font-style="italic">IRX5</text>
<rect x="319.00" y="556.98" width="30.30" height="22.18" fill="#a0a0dc" shape-rendering="crispEdges"/>
<rect x="349.00" y="556.98" width="30.30" height="22.18" fill="#f05a60" shape-rendering="crispEdges"/>
<rect x="379.00" y="556.98" width="30.40" height="22.18" fill="#ee5256" shape-rendering="crispEdges"/>
<rect x="409.10" y="556.98" width="30.40" height="22.18" fill="#ea4a4e" shape-rendering="crispEdges"/>
<text x="443.6" y="571.82" font-size="12" font-style="italic">IRX4</text>
<rect x="319.00" y="578.86" width="30.30" height="22.18" fill="#c0c0ec" shape-rendering="crispEdges"/>
<rect x="349.00" y="578.86" width="30.30" height="22.18" fill="#eeeefa" shape-rendering="crispEdges"/>
<rect x="379.00" y="578.86" width="30.40" height="22.18" fill="#fdeef0" shape-rendering="crispEdges"/>
<rect x="409.10" y="578.86" width="30.40" height="22.18" fill="#fcdce2" shape-rendering="crispEdges"/>
<text x="443.6" y="593.7" font-size="12" font-style="italic">KCNJ8</text>
<rect x="319.00" y="600.74" width="30.30" height="22.18" fill="#b4b4e8" shape-rendering="crispEdges"/>
<rect x="349.00" y="600.74" width="30.30" height="22.18" fill="#fa9aa0" shape-rendering="crispEdges"/>
<rect x="379.00" y="600.74" width="30.40" height="22.18" fill="#f47078" shape-rendering="crispEdges"/>
<rect x="409.10" y="600.74" width="30.40" height="22.18" fill="#f36a70" shape-rendering="crispEdges"/>
<text x="443.6" y="615.58" font-size="12" font-style="italic">RYR2</text>
<rect x="319.00" y="622.62" width="30.30" height="22.18" fill="#f2f2fc" shape-rendering="crispEdges"/>
<rect x="349.00" y="622.62" width="30.30" height="22.18" fill="#e94447" shape-rendering="crispEdges"/>
<rect x="379.00" y="622.62" width="30.40" height="22.18" fill="#e63e40" shape-rendering="crispEdges"/>
<rect x="409.10" y="622.62" width="30.40" height="22.18" fill="#f36a70" shape-rendering="crispEdges"/>
<text x="443.6" y="637.46" font-size="12" font-style="italic">MYH7</text>
<rect x="319.00" y="644.50" width="30.30" height="22.18" fill="#fde8ec" shape-rendering="crispEdges"/>
<rect x="349.00" y="644.50" width="30.30" height="22.18" fill="#f46e74" shape-rendering="crispEdges"/>
<rect x="379.00" y="644.50" width="30.40" height="22.18" fill="#e94447" shape-rendering="crispEdges"/>
<rect x="409.10" y="644.50" width="30.40" height="22.18" fill="#ea4a4c" shape-rendering="crispEdges"/>
<text x="443.6" y="659.34" font-size="12" font-style="italic">TBX2</text>
<rect x="319.00" y="666.38" width="30.30" height="22.18" fill="#fcd0d8" shape-rendering="crispEdges"/>
<rect x="349.00" y="666.38" width="30.30" height="22.18" fill="#fbb0b8" shape-rendering="crispEdges"/>
<rect x="379.00" y="666.38" width="30.40" height="22.18" fill="#f68890" shape-rendering="crispEdges"/>
<rect x="409.10" y="666.38" width="30.40" height="22.18" fill="#f68c92" shape-rendering="crispEdges"/>
<text x="443.6" y="681.22" font-size="12" font-style="italic">HAND2</text>
<rect x="319.00" y="688.26" width="30.30" height="22.18" fill="#fcbcc4" shape-rendering="crispEdges"/>
<rect x="349.00" y="688.26" width="30.30" height="22.18" fill="#f4747a" shape-rendering="crispEdges"/>
<rect x="379.00" y="688.26" width="30.40" height="22.18" fill="#f58085" shape-rendering="crispEdges"/>
<rect x="409.10" y="688.26" width="30.40" height="22.18" fill="#f26a70" shape-rendering="crispEdges"/>
<text x="443.6" y="703.1" font-size="12" font-style="italic">MYL4</text>
<rect x="319.00" y="710.14" width="30.30" height="22.18" fill="#fcb8c0" shape-rendering="crispEdges"/>
<rect x="349.00" y="710.14" width="30.30" height="22.18" fill="#e33c38" shape-rendering="crispEdges"/>
<rect x="379.00" y="710.14" width="30.40" height="22.18" fill="#df3330" shape-rendering="crispEdges"/>
<rect x="409.10" y="710.14" width="30.40" height="22.18" fill="#e0362e" shape-rendering="crispEdges"/>
<text x="443.6" y="724.98" font-size="12" font-style="italic">TNNT2</text>
<text x="381.4" y="418.7" font-size="12.2" text-anchor="middle">Heart development</text>
<text x="341" y="745" font-size="12.3" text-anchor="end" transform="rotate(-45 341 745)">Ct</text>
<text x="370.5" y="744.5" font-size="12.3" text-anchor="end" transform="rotate(-45 370.5 744.5)">IWP2</text>
<text x="401" y="744.5" font-size="12.3" text-anchor="end" transform="rotate(-45 401 744.5)">P38i</text>
<text x="430.5" y="744.5" font-size="12.3" text-anchor="end" transform="rotate(-45 430.5 744.5)">Nam</text>
<defs><linearGradient id="cbG" x1="0" x2="1" y1="0" y2="0"><stop offset="0" stop-color="#2c45a6"/><stop offset="0.5" stop-color="#fbf7fb"/><stop offset="1" stop-color="#e0392e"/></linearGradient></defs>
<rect x="325.70" y="772.50" width="109.20" height="7.30" fill="url(#cbG)"/>
<text x="325.7" y="791.5" font-size="10.4">low</text>
<text x="434.9" y="791.5" font-size="10.4" text-anchor="end">high</text>
<rect x="495.10" y="424.90" width="32.20" height="14.99" fill="#6466c0" shape-rendering="crispEdges"/>
<rect x="527.00" y="424.90" width="32.30" height="14.99" fill="#9a9cdc" shape-rendering="crispEdges"/>
<rect x="559.00" y="424.90" width="32.20" height="14.99" fill="#8e90d6" shape-rendering="crispEdges"/>
<rect x="590.90" y="424.90" width="31.80" height="14.99" fill="#2d48a8" shape-rendering="crispEdges"/>
<text x="628.8" y="436.545" font-size="12" font-style="italic">CCNE2</text>
<rect x="495.10" y="439.59" width="32.20" height="14.99" fill="#7a7ec8" shape-rendering="crispEdges"/>
<rect x="527.00" y="439.59" width="32.30" height="14.99" fill="#7a7ec8" shape-rendering="crispEdges"/>
<rect x="559.00" y="439.59" width="32.20" height="14.99" fill="#5a5cb4" shape-rendering="crispEdges"/>
<rect x="590.90" y="439.59" width="31.80" height="14.99" fill="#3a4caa" shape-rendering="crispEdges"/>
<text x="628.8" y="451.235" font-size="12" font-style="italic">SIRT2</text>
<rect x="495.10" y="454.28" width="32.20" height="14.99" fill="#b4b4e6" shape-rendering="crispEdges"/>
<rect x="527.00" y="454.28" width="32.30" height="14.99" fill="#a4a6e0" shape-rendering="crispEdges"/>
<rect x="559.00" y="454.28" width="32.20" height="14.99" fill="#9698da" shape-rendering="crispEdges"/>
<rect x="590.90" y="454.28" width="31.80" height="14.99" fill="#3a4caa" shape-rendering="crispEdges"/>
<text x="628.8" y="465.925" font-size="12" font-style="italic">MCM10</text>
<rect x="495.10" y="468.97" width="32.20" height="14.99" fill="#bcbcea" shape-rendering="crispEdges"/>
<rect x="527.00" y="468.97" width="32.30" height="14.99" fill="#a8a8e2" shape-rendering="crispEdges"/>
<rect x="559.00" y="468.97" width="32.20" height="14.99" fill="#a0a2de" shape-rendering="crispEdges"/>
<rect x="590.90" y="468.97" width="31.80" height="14.99" fill="#5054b0" shape-rendering="crispEdges"/>
<text x="628.8" y="480.615" font-size="12" font-style="italic">CHEK2</text>
<rect x="495.10" y="483.66" width="32.20" height="14.99" fill="#c4c4ec" shape-rendering="crispEdges"/>
<rect x="527.00" y="483.66" width="32.30" height="14.99" fill="#7c7ecc" shape-rendering="crispEdges"/>
<rect x="559.00" y="483.66" width="32.20" height="14.99" fill="#7c7ecc" shape-rendering="crispEdges"/>
<rect x="590.90" y="483.66" width="31.80" height="14.99" fill="#3448a8" shape-rendering="crispEdges"/>
<text x="628.8" y="495.305" font-size="12" font-style="italic">CDC25C</text>
<rect x="495.10" y="498.35" width="32.20" height="14.99" fill="#d6d6f2" shape-rendering="crispEdges"/>
<rect x="527.00" y="498.35" width="32.30" height="14.99" fill="#9a9cdc" shape-rendering="crispEdges"/>
<rect x="559.00" y="498.35" width="32.20" height="14.99" fill="#a0a2de" shape-rendering="crispEdges"/>
<rect x="590.90" y="498.35" width="31.80" height="14.99" fill="#3e4cac" shape-rendering="crispEdges"/>
<text x="628.8" y="509.995" font-size="12" font-style="italic">MASTL</text>
<rect x="495.10" y="513.04" width="32.20" height="14.99" fill="#dcdcf4" shape-rendering="crispEdges"/>
<rect x="527.00" y="513.04" width="32.30" height="14.99" fill="#c0c0ec" shape-rendering="crispEdges"/>
<rect x="559.00" y="513.04" width="32.20" height="14.99" fill="#b4b4e6" shape-rendering="crispEdges"/>
<rect x="590.90" y="513.04" width="31.80" height="14.99" fill="#9294d6" shape-rendering="crispEdges"/>
<text x="628.8" y="524.685" font-size="12" font-style="italic">PRIM1</text>
<rect x="495.10" y="527.73" width="32.20" height="14.99" fill="#e6e6f8" shape-rendering="crispEdges"/>
<rect x="527.00" y="527.73" width="32.30" height="14.99" fill="#c8c8ee" shape-rendering="crispEdges"/>
<rect x="559.00" y="527.73" width="32.20" height="14.99" fill="#b8b8e8" shape-rendering="crispEdges"/>
<rect x="590.90" y="527.73" width="31.80" height="14.99" fill="#9294d6" shape-rendering="crispEdges"/>
<text x="628.8" y="539.375" font-size="12" font-style="italic">FBXL7</text>
<rect x="495.10" y="542.42" width="32.20" height="14.99" fill="#f0f0fc" shape-rendering="crispEdges"/>
<rect x="527.00" y="542.42" width="32.30" height="14.99" fill="#b8b8e8" shape-rendering="crispEdges"/>
<rect x="559.00" y="542.42" width="32.20" height="14.99" fill="#bcbcea" shape-rendering="crispEdges"/>
<rect x="590.90" y="542.42" width="31.80" height="14.99" fill="#6466c0" shape-rendering="crispEdges"/>
<text x="628.8" y="554.0649999999999" font-size="12" font-style="italic">NEK2</text>
<rect x="495.10" y="557.11" width="32.20" height="14.99" fill="#f8f8fe" shape-rendering="crispEdges"/>
<rect x="527.00" y="557.11" width="32.30" height="14.99" fill="#dcdcf4" shape-rendering="crispEdges"/>
<rect x="559.00" y="557.11" width="32.20" height="14.99" fill="#eeeefa" shape-rendering="crispEdges"/>
<rect x="590.90" y="557.11" width="31.80" height="14.99" fill="#9a9cdc" shape-rendering="crispEdges"/>
<text x="628.8" y="568.755" font-size="12" font-style="italic">CDKN3</text>
<rect x="495.10" y="571.80" width="32.20" height="14.99" fill="#fef2f4" shape-rendering="crispEdges"/>
<rect x="527.00" y="571.80" width="32.30" height="14.99" fill="#eaeafa" shape-rendering="crispEdges"/>
<rect x="559.00" y="571.80" width="32.20" height="14.99" fill="#dcdcf4" shape-rendering="crispEdges"/>
<rect x="590.90" y="571.80" width="31.80" height="14.99" fill="#b0b0e4" shape-rendering="crispEdges"/>
<text x="628.8" y="583.4449999999999" font-size="12" font-style="italic">POLE2</text>
<rect x="495.10" y="586.49" width="32.20" height="14.99" fill="#fde0e4" shape-rendering="crispEdges"/>
<rect x="527.00" y="586.49" width="32.30" height="14.99" fill="#fffcf8" shape-rendering="crispEdges"/>
<rect x="559.00" y="586.49" width="32.20" height="14.99" fill="#dcdcf4" shape-rendering="crispEdges"/>
<rect x="590.90" y="586.49" width="31.80" height="14.99" fill="#a6a8e0" shape-rendering="crispEdges"/>
<text x="628.8" y="598.135" font-size="12" font-style="italic">BMP4</text>
<rect x="495.10" y="601.18" width="32.20" height="14.99" fill="#fde0e4" shape-rendering="crispEdges"/>
<rect x="527.00" y="601.18" width="32.30" height="14.99" fill="#fff4f2" shape-rendering="crispEdges"/>
<rect x="559.00" y="601.18" width="32.20" height="14.99" fill="#eaeafa" shape-rendering="crispEdges"/>
<rect x="590.90" y="601.18" width="31.80" height="14.99" fill="#9a9cdc" shape-rendering="crispEdges"/>
<text x="628.8" y="612.8249999999999" font-size="12" font-style="italic">CDC45</text>
<rect x="495.10" y="615.87" width="32.20" height="14.99" fill="#fde0e4" shape-rendering="crispEdges"/>
<rect x="527.00" y="615.87" width="32.30" height="14.99" fill="#fffafa" shape-rendering="crispEdges"/>
<rect x="559.00" y="615.87" width="32.20" height="14.99" fill="#eeeefa" shape-rendering="crispEdges"/>
<rect x="590.90" y="615.87" width="31.80" height="14.99" fill="#a8a8e2" shape-rendering="crispEdges"/>
<text x="628.8" y="627.515" font-size="12" font-style="italic">MELK</text>
<rect x="495.10" y="630.56" width="32.20" height="14.99" fill="#fcc8d0" shape-rendering="crispEdges"/>
<rect x="527.00" y="630.56" width="32.30" height="14.99" fill="#fde4e8" shape-rendering="crispEdges"/>
<rect x="559.00" y="630.56" width="32.20" height="14.99" fill="#fde4e8" shape-rendering="crispEdges"/>
<rect x="590.90" y="630.56" width="31.80" height="14.99" fill="#d4d4f2" shape-rendering="crispEdges"/>
<text x="628.8" y="642.2049999999999" font-size="12" font-style="italic">CCNB1</text>
<rect x="495.10" y="645.25" width="32.20" height="14.99" fill="#fcbcc4" shape-rendering="crispEdges"/>
<rect x="527.00" y="645.25" width="32.30" height="14.99" fill="#fcd4da" shape-rendering="crispEdges"/>
<rect x="559.00" y="645.25" width="32.20" height="14.99" fill="#fffaf8" shape-rendering="crispEdges"/>
<rect x="590.90" y="645.25" width="31.80" height="14.99" fill="#dcdcf4" shape-rendering="crispEdges"/>
<text x="628.8" y="656.895" font-size="12" font-style="italic">CDC25B</text>
<rect x="495.10" y="659.94" width="32.20" height="14.99" fill="#fcb4bc" shape-rendering="crispEdges"/>
<rect x="527.00" y="659.94" width="32.30" height="14.99" fill="#fff0f0" shape-rendering="crispEdges"/>
<rect x="559.00" y="659.94" width="32.20" height="14.99" fill="#fff0f0" shape-rendering="crispEdges"/>
<rect x="590.90" y="659.94" width="31.80" height="14.99" fill="#cacaee" shape-rendering="crispEdges"/>
<text x="628.8" y="671.5849999999999" font-size="12" font-style="italic">CCNB2</text>
<rect x="495.10" y="674.63" width="32.20" height="14.99" fill="#fcb0b8" shape-rendering="crispEdges"/>
<rect x="527.00" y="674.63" width="32.30" height="14.99" fill="#fde0e4" shape-rendering="crispEdges"/>
<rect x="559.00" y="674.63" width="32.20" height="14.99" fill="#fdeef0" shape-rendering="crispEdges"/>
<rect x="590.90" y="674.63" width="31.80" height="14.99" fill="#d4d4f2" shape-rendering="crispEdges"/>
<text x="628.8" y="686.275" font-size="12" font-style="italic">CCNA2</text>
<rect x="495.10" y="689.32" width="32.20" height="14.99" fill="#f99098" shape-rendering="crispEdges"/>
<rect x="527.00" y="689.32" width="32.30" height="14.99" fill="#fde0e4" shape-rendering="crispEdges"/>
<rect x="559.00" y="689.32" width="32.20" height="14.99" fill="#fde0e4" shape-rendering="crispEdges"/>
<rect x="590.90" y="689.32" width="31.80" height="14.99" fill="#c8c8ee" shape-rendering="crispEdges"/>
<text x="628.8" y="700.9649999999999" font-size="12" font-style="italic">CAMK2N1</text>
<rect x="495.10" y="704.01" width="32.20" height="14.99" fill="#f46e74" shape-rendering="crispEdges"/>
<rect x="527.00" y="704.01" width="32.30" height="14.99" fill="#f99aa0" shape-rendering="crispEdges"/>
<rect x="559.00" y="704.01" width="32.20" height="14.99" fill="#f99aa0" shape-rendering="crispEdges"/>
<rect x="590.90" y="704.01" width="31.80" height="14.99" fill="#e2e2f6" shape-rendering="crispEdges"/>
<text x="628.8" y="715.655" font-size="12" font-style="italic">UBE2C</text>
<rect x="495.10" y="718.70" width="32.20" height="14.99" fill="#f26268" shape-rendering="crispEdges"/>
<rect x="527.00" y="718.70" width="32.30" height="14.99" fill="#f47a80" shape-rendering="crispEdges"/>
<rect x="559.00" y="718.70" width="32.20" height="14.99" fill="#f78a90" shape-rendering="crispEdges"/>
<rect x="590.90" y="718.70" width="31.80" height="14.99" fill="#fcbcc4" shape-rendering="crispEdges"/>
<text x="628.8" y="730.345" font-size="12" font-style="italic">CKS1B</text>
<rect x="495.10" y="733.39" width="32.20" height="14.99" fill="#ea4a4e" shape-rendering="crispEdges"/>
<rect x="527.00" y="733.39" width="32.30" height="14.99" fill="#f47a80" shape-rendering="crispEdges"/>
<rect x="559.00" y="733.39" width="32.20" height="14.99" fill="#f78a90" shape-rendering="crispEdges"/>
<rect x="590.90" y="733.39" width="31.80" height="14.99" fill="#f99aa0" shape-rendering="crispEdges"/>
<text x="628.8" y="745.035" font-size="12" font-style="italic">TP53I13</text>
<rect x="495.10" y="748.08" width="32.20" height="14.99" fill="#e0362a" shape-rendering="crispEdges"/>
<rect x="527.00" y="748.08" width="32.30" height="14.99" fill="#e0362a" shape-rendering="crispEdges"/>
<rect x="559.00" y="748.08" width="32.20" height="14.99" fill="#e0362a" shape-rendering="crispEdges"/>
<rect x="590.90" y="748.08" width="31.80" height="14.99" fill="#f47a80" shape-rendering="crispEdges"/>
<text x="628.8" y="759.7249999999999" font-size="12" font-style="italic">CCND1</text>
<text x="568" y="419" font-size="12.2" text-anchor="middle">Cell Cycle</text>
<text x="513.5" y="773" font-size="12.3" text-anchor="end" transform="rotate(-45 513.5 773)">Ct</text>
<text x="544.5" y="773" font-size="12.3" text-anchor="end" transform="rotate(-45 544.5 773)">IWP2</text>
<text x="579" y="773" font-size="12.3" text-anchor="end" transform="rotate(-45 579 773)">P38i</text>
<text x="611" y="772.5" font-size="12.3" text-anchor="end" transform="rotate(-45 611 772.5)">Nam</text>
</svg></body></html>
